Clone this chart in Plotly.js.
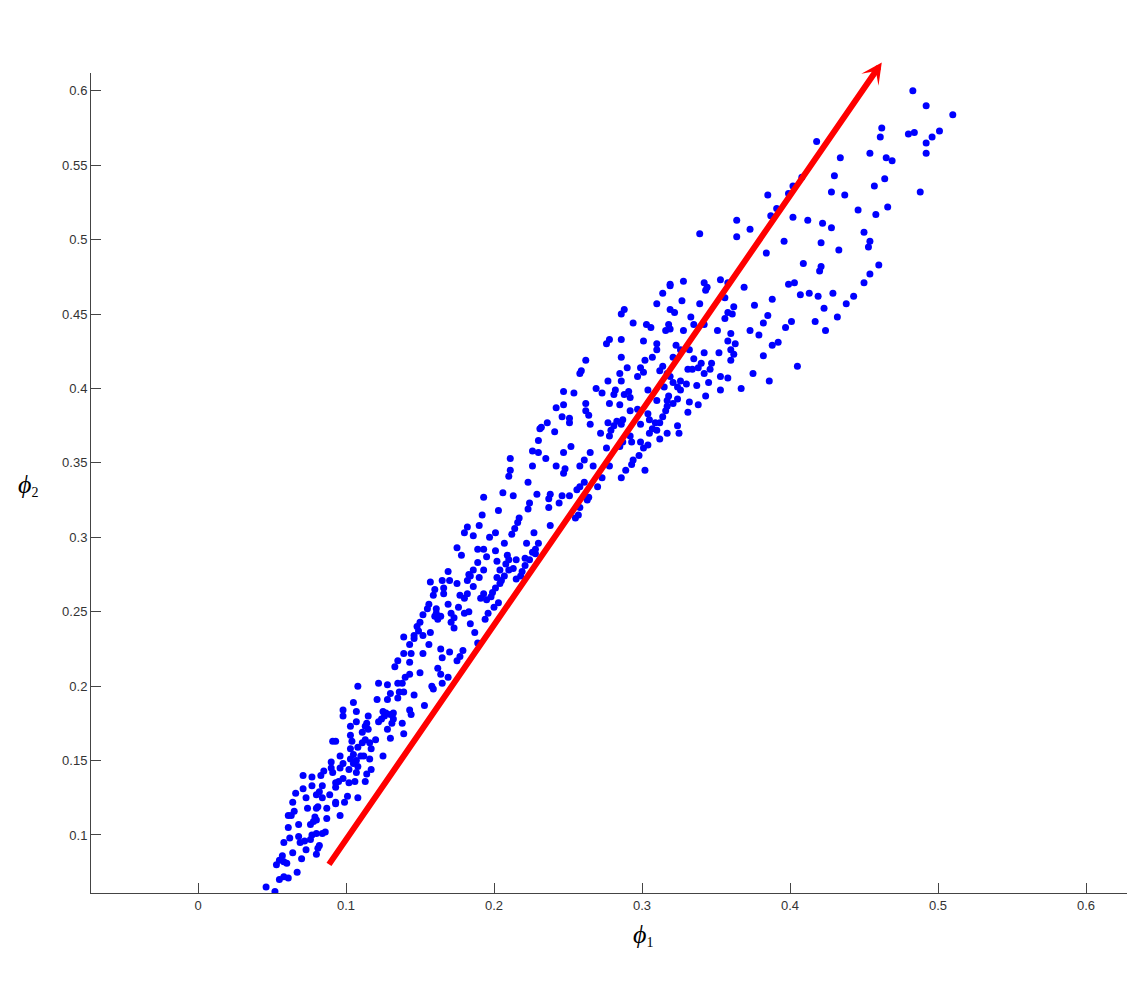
<!DOCTYPE html>
<html>
<head>
<meta charset="utf-8">
<script src="https://cdn.plot.ly/plotly-3.0.1.min.js"></script>
<style>html,body{margin:0;padding:0;background:#fff;}#chart{width:1129px;height:1003px;}</style>
</head>
<body>
<div id="chart"></div>
<script>
// phi1 / phi2 values, grouped by band segment
const phi1_low = [.046,.052,.055,.058,.061,.067,.053,.055,.057,.058,.060,.064,.070,.073,.080,.081,
.058,.062,.068,.069,.072,.076,.077,.080,.082,.084,.086,
.061,.068,.076,.078,.080,.087,
.061,.063,.065,.074,.080,.079,.081,.087,.093,.096,
.064,.066,.073,.080,.082,.084,.089,.093,.099,.101,.108,
.071,.077,.084,.093,.093,.095,.098,.102,.106,.113,
.071,.077,.083,.085,.090,.091,.096,.098,.102,.107,.108,.114,.117,
.090,.096,.103,.105,.107,.110,.112,.116,.125,
.091,.093,.103,.104,.105,.108,.111,.113,.116,.120,.117,
.103,.103,.107,.111,.113,.114,.115,.122,.124,.126,.128,.130,.131,.132,.138,.139,
.098,.098,.107,.115,.125,.127,.130,.132,.143,.144,.153,
.105,.121,.128,.130,.135,.136,.139,.146,.158,.159,
.108,.122,.128,.135,.138,.165];
const phi2_low = [.065,.062,.070,.072,.071,.075,.080,.083,.086,.082,.081,.088,.084,.090,.087,.091,
.095,.098,.099,.095,.096,.097,.100,.101,.093,.101,.102,
.105,.107,.107,.109,.110,.111,
.113,.113,.116,.118,.118,.112,.119,.118,.121,.113,
.122,.128,.125,.127,.129,.125,.127,.122,.122,.126,.125,
.131,.133,.133,.135,.132,.136,.138,.135,.136,.136,
.140,.139,.140,.143,.145,.142,.145,.148,.144,.142,.146,.141,.144,
.149,.153,.151,.148,.150,.153,.153,.151,.153,
.163,.163,.158,.163,.154,.159,.162,.164,.162,.164,.158,
.167,.173,.176,.169,.173,.175,.171,.176,.178,.180,.171,.165,.175,.178,.175,.168,
.184,.180,.183,.180,.183,.182,.181,.182,.184,.181,.187,
.189,.191,.191,.195,.192,.196,.196,.194,.200,.198,
.200,.202,.201,.202,.202,.202];

const phi1_mid = [.180,.186,.201,.197,.212,.227,.207,.222,.230,.228,.175,.178,.189,.193,.201,.195,.202,.209,.210,.215,.221,.226,.224,.228,
.169,.183,.186,.189,.193,.204,.210,.208,.213,.219,.221,.218,.215,
.157,.165,.170,.175,.184,.182,.190,.202,.207,.205,.204,.186,
.160,.166,.166,.177,.180,.182,.191,.193,.195,.198,.201,.199,.203,.200,
.159,.169,.176,.156,.155,.161,.161,.152,.160,.164,.162,.171,.173,.171,.173,.180,.183,.184,.187,.194,.196,
.150,.148,.149,.146,.146,.152,.157,.139,.143,.156,.152,.139,.144,.143,.164,.170,.177,.179,.175,.165,.189,
.135,.133,.150,.140,.143,.162,.164,.169];
const phi2_mid = [.303,.301,.303,.300,.302,.303,.296,.296,.296,.292,.293,.288,.292,.292,.291,.287,.284,.288,.285,.285,.286,.290,.285,.289,
.277,.275,.278,.283,.278,.278,.278,.282,.279,.277,.281,.274,.272,
.270,.271,.271,.269,.274,.271,.273,.273,.274,.271,.269,.267,
.265,.266,.262,.261,.259,.262,.259,.262,.258,.260,.266,.263,.256,.253,
.261,.255,.253,.255,.252,.252,.249,.248,.247,.247,.245,.249,.246,.243,.239,.249,.250,.242,.236,.245,.249,
.243,.240,.237,.234,.232,.234,.236,.233,.228,.228,.222,.222,.222,.216,.225,.223,.220,.224,.217,.219,.229,
.217,.213,.209,.206,.208,.212,.208,.206];

const phi1_up = [.258,.259,.247,.254,.242,.247,.246,.251,.251,.231,.236,.232,.241,.230,.226,.230,.235,.247,.252,
.211,.211,.210,.226,.242,.247,.248,.193,.206,.213,.223,.229,.224,.238,.237,.246,.251,.244,
.192,.203,.223,.237,.217,.216,.214,.182,.190,.238,.257,.255,.258,.256,.258,.264,.263,.258];
const phi2_up = [.410,.412,.398,.397,.387,.389,.381,.380,.377,.373,.377,.374,.371,.365,.358,.357,.353,.357,.361,
.353,.345,.341,.348,.348,.343,.346,.327,.330,.328,.337,.329,.323,.329,.326,.328,.328,.323,
.315,.318,.319,.320,.313,.310,.306,.307,.308,.308,.315,.313,.320,.332,.334,.327,.325,.348];

const phi1_high = [.319,.319,.328,.342,.344,.343,.353,.314,.310,.327,.339,.288,.286,.294,.303,.306,.319,.322,.318,.316,.319,.328,.333,.335,.342,.351,
.276,.278,.286,.301,.310,.310,.307,.302,.299,.301,.297,.312,.314,.323,.326,.321,.332,.335,.331,.334,.338,.342,.340,.346,.347,.352,
.262,.286,.290,.285,.277,.286,.317,.319,.315,.321,.326,.324,.326,.330,.337,.342,.345,.353,.353,
.269,.273,.281,.282,.288,.291,.292,.304,.310,.318,.317,.321,.324,.332,.338,.343,
.262,.262,.264,.265,.278,.285,.277,.279,.281,.283,.286,.287,.292,.297,.299,.304,.305,.307,.309,.312,.314,.316,.317,.331,.324,.325,.317,.310,
.272,.278,.292,.293,.287,.285,.305,.304,.299,.301,.298,.294,.293,.312,.276,.265,.261,.267,.278,.289,.302,.286,.273,.261,.270];
const phi2_high = [.470,.469,.472,.471,.468,.466,.473,.464,.457,.459,.457,.453,.450,.444,.443,.441,.453,.451,.443,.439,.440,.439,.448,.443,.443,.439,
.430,.433,.433,.432,.430,.426,.421,.419,.414,.411,.408,.412,.415,.429,.426,.421,.426,.420,.413,.413,.414,.424,.417,.413,.417,.424,
.419,.421,.414,.410,.405,.405,.410,.408,.401,.404,.405,.401,.399,.403,.402,.410,.404,.408,.399,
.400,.397,.396,.399,.396,.398,.394,.399,.392,.395,.392,.390,.393,.391,.389,.395,
.390,.385,.382,.376,.390,.389,.377,.372,.375,.378,.376,.379,.385,.386,.376,.383,.379,.373,.377,.377,.381,.385,.388,.384,.375,.370,.370,.372,
.370,.368,.368,.364,.364,.361,.370,.362,.364,.360,.355,.352,.349,.366,.360,.357,.352,.348,.348,.345,.345,.340,.340,.337,.334];

const phi1_top = [.483,.492,.510,.462,.461,.480,.484,.501,.496,.492,.492,.418,.434,.454,.465,.469,.430,.464,.457,.428,.437,.488,
.408,.402,.399,.385,.391,.387,.402,.412,.422,.428,.446,.458,.466,
.364,.373,.364,.396,.421,.433,.450,.454,.453,.384,.409,.421,.420,.460,.454,.450,.399,.403,.407,.413,.419,.429,.443,.438,.432,.423,.417,.424,
.369,.388,.376,.362,.358,.361,.356,.385,.382,.401,.397,.373,.379,.392,.388,.360,.358,.363,.360,.362,.360,.382,.405,.375,.386,.358,.367,.358,.356,.339];
const phi2_top = [.600,.590,.584,.575,.569,.571,.572,.573,.569,.565,.558,.566,.555,.558,.555,.553,.543,.541,.536,.532,.530,.532,
.542,.536,.531,.530,.521,.516,.515,.513,.511,.508,.520,.517,.522,
.513,.507,.502,.499,.498,.493,.505,.499,.495,.491,.484,.482,.479,.483,.477,.471,.470,.471,.463,.464,.462,.464,.462,.457,.448,.454,.445,.439,
.468,.460,.456,.455,.451,.450,.447,.449,.444,.445,.441,.439,.436,.431,.429,.437,.432,.430,.426,.423,.419,.422,.415,.410,.405,.407,.400,.471,.461,.504];

// red direction arrow: tail and head in data units [phi1, phi2]
const arrowTail = [0.0878, 0.0792];
const arrowHead = [0.462, 0.619];

const phi1 = [].concat(phi1_low, phi1_mid, phi1_up, phi1_high, phi1_top);
const phi2 = [].concat(phi2_low, phi2_mid, phi2_up, phi2_high, phi2_top);

const xTicks = [0, 0.1, 0.2, 0.3, 0.4, 0.5, 0.6];
const yTicks = [0.1, 0.15, 0.2, 0.25, 0.3, 0.35, 0.4, 0.45, 0.5, 0.55, 0.6];

const trace = {
  x: phi1, y: phi2, type: 'scatter', mode: 'markers',
  marker: {color: '#0000FF', size: 7, line: {width: 0}},
  hoverinfo: 'x+y', showlegend: false
};

const axisCommon = {
  showgrid: false, zeroline: false, showline: true, linecolor: '#444', linewidth: 1,
  ticks: 'inside', ticklen: 10, tickcolor: '#444', tickwidth: 1,
  tickfont: {family: 'Liberation Sans, Arial, sans-serif', size: 13, color: '#333'},
  mirror: false
};

const layout = {
  width: 1129, height: 1003,
  margin: {l: 91, r: 2, t: 73, b: 110, pad: 0},
  paper_bgcolor: '#fff', plot_bgcolor: '#fff',
  xaxis: Object.assign({}, axisCommon, {range: [-0.0723, 0.6277], tickmode: 'array', tickvals: xTicks, ticktext: xTicks.map(String)}),
  yaxis: Object.assign({}, axisCommon, {range: [0.061, 0.612], tickmode: 'array', tickvals: yTicks, ticktext: yTicks.map(String)}),
  annotations: [
    {x: arrowHead[0], y: arrowHead[1], xref: 'x', yref: 'y',
     ax: arrowTail[0], ay: arrowTail[1], axref: 'x', ayref: 'y',
     text: '', showarrow: true, arrowhead: 3, arrowsize: 0.58, arrowwidth: 6, arrowcolor: '#FF0000',
     standoff: 0, startstandoff: 0},
    {x: 0.5328, y: -0.0512, xref: 'paper', yref: 'paper', showarrow: false,
     text: '<span style="font-size:26px"><i>ϕ</i></span><sub>1</sub>', font: {family: 'Liberation Serif, DejaVu Serif, serif', size: 20, color: '#000'},
     xanchor: 'center', yanchor: 'middle'},
    {x: -0.0608, y: 0.4976, xref: 'paper', yref: 'paper', showarrow: false,
     text: '<span style="font-size:26px"><i>ϕ</i></span><sub>2</sub>', font: {family: 'Liberation Serif, DejaVu Serif, serif', size: 20, color: '#000'},
     xanchor: 'center', yanchor: 'middle'}
  ]
};

Plotly.newPlot('chart', [trace], layout, {displayModeBar: false, staticPlot: true});
</script>
</body>
</html>
